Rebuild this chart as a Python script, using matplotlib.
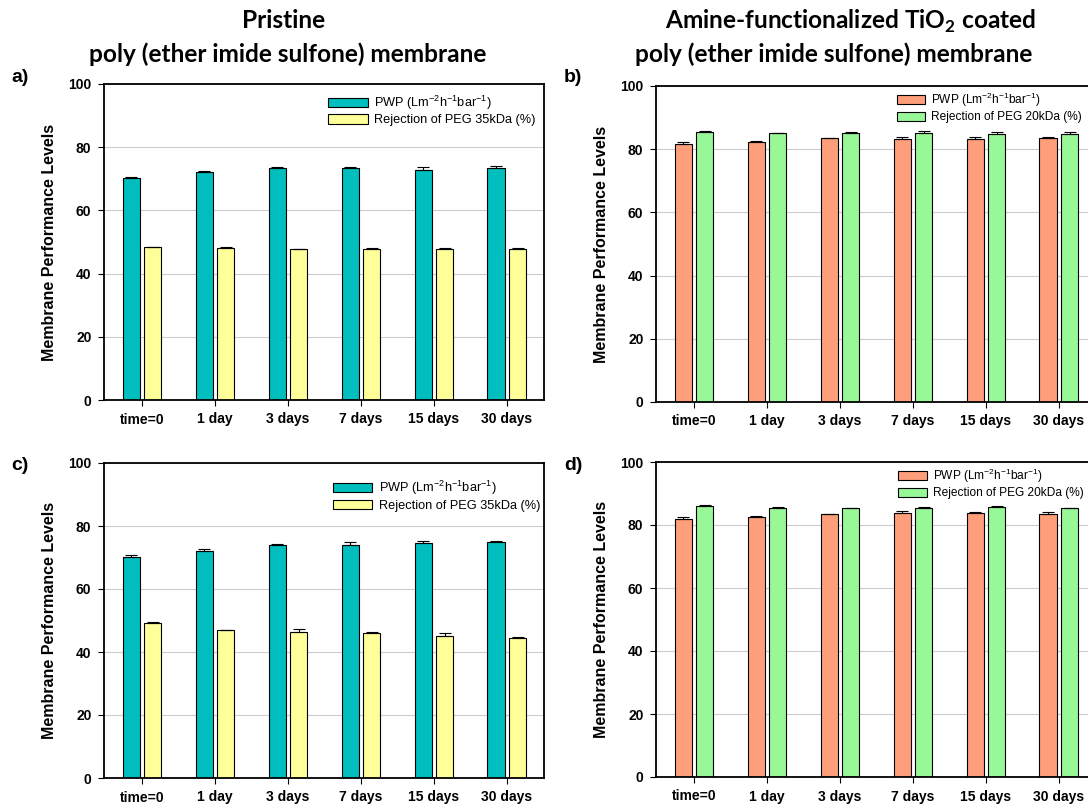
import numpy as np
import matplotlib.pyplot as plt

plt.rcParams['font.family'] = ['Liberation Sans', 'DejaVu Sans']
plt.rcParams['mathtext.fontset'] = 'custom'
plt.rcParams['mathtext.rm'] = 'Liberation Sans'
plt.rcParams['mathtext.bf'] = 'Lato:bold'

# data
days = ['time=0', '1 day', '3 days', '7 days', '15 days', '30 days']

pwp_a = [70.2, 72.1, 73.5, 73.5, 72.7, 73.5]
pwp_a_err = [0.3, 0.3, 0.2, 0.2, 1.0, 0.5]
rej_a = [48.3, 48.1, 47.8, 47.9, 47.9, 47.9]
rej_a_err = [0.2, 0.2, 0.1, 0.2, 0.2, 0.2]

pwp_b = [81.7, 82.2, 83.5, 83.3, 83.2, 83.5]
pwp_b_err = [0.6, 0.3, 0.2, 0.6, 0.6, 0.5]
rej_b = [85.6, 85.0, 85.2, 85.1, 84.9, 84.9]
rej_b_err = [0.2, 0.2, 0.2, 0.6, 0.7, 0.5]

pwp_c = [70.1, 72.1, 73.9, 73.9, 74.6, 74.8]
pwp_c_err = [0.8, 0.5, 0.4, 1.1, 0.7, 0.5]
rej_c = [49.2, 46.9, 46.5, 46.0, 45.2, 44.3]
rej_c_err = [0.4, 0.2, 0.7, 0.2, 0.7, 0.4]

pwp_d = [81.8, 82.5, 83.4, 83.7, 83.7, 83.6]
pwp_d_err = [0.8, 0.5, 0.2, 0.6, 0.4, 0.4]
rej_d = [86.0, 85.4, 85.3, 85.4, 85.7, 85.3]
rej_d_err = [0.2, 0.2, 0.2, 0.2, 0.3, 0.2]

teal = '#00BEBE'
yellow = '#FFFF99'
salmon = '#FF9E7A'
green = '#98F898'

pwp_label = 'PWP (Lm$^{-2}$h$^{-1}$bar$^{-1}$)'

W, H = 1088, 810
fig = plt.figure(figsize=(W / 100, H / 100), dpi=100)


def px_axes(left, top, right, bottom):
    return fig.add_axes([left / W, 1 - bottom / H, (right - left) / W, (bottom - top) / H])


def panel(ax, v1, e1, v2, e2, c1, c2, lab2, leg_xy, leg_fs, handlelen):
    x = np.arange(len(days))
    w = 0.235
    off = 0.147
    n = len(days)
    ax.bar(x - off, v1, w, color=c1, edgecolor='black', lw=0.8, zorder=2, label=pwp_label)
    ax.bar(x + off, v2, w, color=c2, edgecolor='black', lw=0.8, zorder=2, label=lab2)
    ax.errorbar(x - off, v1, yerr=[np.zeros(n), e1], fmt='none', ecolor='black',
                elinewidth=0.8, capsize=4, capthick=0.8, zorder=3)
    ax.errorbar(x + off, v2, yerr=[np.zeros(n), e2], fmt='none', ecolor='black',
                elinewidth=0.8, capsize=4, capthick=0.8, zorder=3)
    ax.set_xlim(-0.52, 5.51)
    ax.set_ylim(0, 100)
    ax.set_yticks([0, 20, 40, 60, 80, 100])
    ax.set_xticks(x)
    ax.set_xticklabels(days, fontweight='bold', fontsize=10)
    for t in ax.get_yticklabels():
        t.set_fontweight('bold')
        t.set_fontsize(10)
    ax.yaxis.grid(True, color='#cccccc', lw=0.8, zorder=0)
    ax.set_axisbelow(True)
    ax.tick_params(axis='both', direction='out', length=4, width=0.8, pad=5)
    for s in ax.spines.values():
        s.set_linewidth(1.3)
    ax.set_ylabel('Membrane Performance Levels', fontweight='bold', fontsize=11.5, labelpad=8)
    ax.legend(loc='upper left', bbox_to_anchor=leg_xy, frameon=False, fontsize=leg_fs,
              handlelength=handlelen, handleheight=0.75, handletextpad=0.5,
              labelspacing=0.2, borderpad=0, borderaxespad=0)


ax_a = px_axes(104, 84, 544, 400)
panel(ax_a, pwp_a, pwp_a_err, rej_a, rej_a_err, teal, yellow,
      'Rejection of PEG 35kDa (%)', (0.51, 0.97), 9.2, 3.1)
ax_b = px_axes(656, 86, 1096, 402)
panel(ax_b, pwp_b, pwp_b_err, rej_b, rej_b_err, salmon, green,
      'Rejection of PEG 20kDa (%)', (0.547, 0.985), 8.6, 2.4)
ax_c = px_axes(104, 463, 544, 778)
panel(ax_c, pwp_c, pwp_c_err, rej_c, rej_c_err, teal, yellow,
      'Rejection of PEG 35kDa (%)', (0.52, 0.95), 9.2, 3.1)
ax_d = px_axes(656, 462, 1096, 777)
panel(ax_d, pwp_d, pwp_d_err, rej_d, rej_d_err, salmon, green,
      'Rejection of PEG 20kDa (%)', (0.55, 0.985), 8.6, 2.4)

# panel letters
for lbl, (xp, yp) in zip(['a)', 'b)', 'c)', 'd)'], [(20, 78), (573, 78), (20, 466), (573, 466)]):
    fig.text(xp / W, 1 - yp / H, lbl, fontsize=14, fontweight='bold', ha='center', va='center')

# column titles
tfont = dict(fontsize=17.6, fontweight='bold', family=['Lato', 'DejaVu Sans'], ha='center', va='center')
fig.text(284 / W, 1 - 21 / H, 'Pristine', **tfont)
fig.text(288 / W, 1 - 54 / H, 'poly (ether imide sulfone) membrane', **tfont)
fig.text(850 / W, 1 - 21 / H, r'Amine-functionalized TiO$_\mathbf{2}$ coated', **tfont)
fig.text(834 / W, 1 - 54 / H, 'poly (ether imide sulfone) membrane', **tfont)

fig.savefig('out.png', dpi=100)
